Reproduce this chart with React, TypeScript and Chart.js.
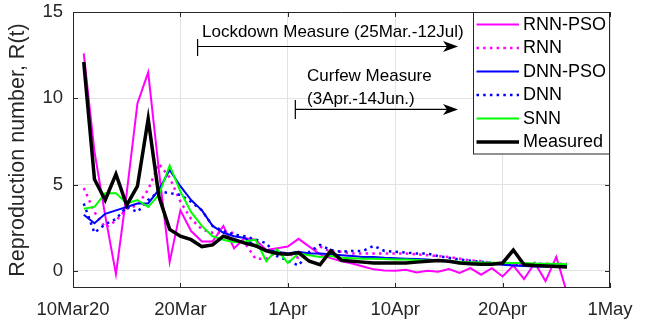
import React, { useEffect, useRef } from "react";
import { Chart, registerables } from "chart.js";

Chart.register(...registerables);

const days = [1,2,3,4,5,6,7,8,9,10,11,12,13,14,15,16,17,18,19,20,21,22,23,24,25,26,27,28,29,30,31,32,33,34,35,36,37,38,39,40,41,42,43,44,45,46];
const xTickValues = [0, 10, 20, 30, 40, 50];
const xTickLabels = ["10Mar20", "20Mar", "1Apr", "10Apr", "20Apr", "1May"];
const yTickValues = [0, 5, 10, 15];

const rnnPso = [12.6,6.9,3.2,-0.2,4.5,9.7,11.5,5.8,0.5,3.5, 2.3,1.7,1.7,2.6,1.3,1.9,1.8,1.2,1.3,1.4, 1.85,1.4,0.95,0.73,0.55,0.42,0.25,0.08,0.02,0.0, 0.06,-0.1,0.0,-0.06,0.1,-0.13,0.15,-0.23,0.15,-0.33, 0.3,-0.48,0.45,-0.6,0.8,-1.3];
const rnn = [4.8,3.4,2.5,2.9,3.6,3.8,4.7,6.2,5.4,4.0, 3.0,2.4,2.2,2.2,2.2,1.6,0.7,0.7,1.1,1.0, 0.75,1.0,1.4,1.1,1.1,1.0,1.0,1.0,1.0,1.0, 1.0,0.95,0.9,0.85,0.8,0.7,0.6,0.55,0.45,0.4, 0.4,0.4,0.4,0.4,0.4,0.4];
const dnnPso = [3.25,2.75,3.3,3.5,3.7,3.9,3.9,4.7,5.85,4.9, 4.1,3.5,2.6,2.2,2.0,1.9,1.4,1.2,1.1,1.0, 1.1,1.0,1.0,0.95,0.9,0.85,0.8,0.8,0.75,0.72, 0.7,0.68,0.65,0.6,0.55,0.5,0.48,0.45,0.4,0.35, 0.3,0.28,0.25,0.25,0.25,0.25];
const dnn = [3.9,2.2,2.7,3.0,3.7,3.4,4.1,4.6,4.5,4.4, 4.0,3.5,2.6,2.3,2.1,2.0,1.8,1.6,0.85,0.6, 0.3,1.1,1.5,1.2,1.1,1.15,1.15,1.45,1.15,1.1, 1.05,1.0,1.0,0.85,0.75,0.65,0.58,0.52,0.45,0.4, 0.35,0.32,0.3,0.3,0.28,0.28];
const snn = [3.6,3.7,4.5,4.5,3.9,4.1,3.7,4.4,6.1,4.6, 3.4,2.6,2.0,1.8,1.65,1.7,1.8,0.55,1.25,0.45, 1.0,0.9,0.8,0.85,0.75,0.72,0.7,0.7,0.68,0.65, 0.65,0.62,0.6,0.58,0.55,0.52,0.5,0.48,0.46,0.45, 0.45,0.45,0.42,0.4,0.4,0.38];
const measured = [12.1,5.3,4.1,5.6,3.8,4.9,8.8,4.3,2.4,2.0, 1.8,1.4,1.5,2.0,1.8,1.6,1.45,1.15,1.0,0.95, 1.05,0.55,0.35,1.15,0.6,0.55,0.5,0.45,0.45,0.45, 0.45,0.5,0.55,0.6,0.55,0.45,0.4,0.38,0.38,0.45, 1.2,0.35,0.3,0.28,0.25,0.22];

const seriesNames = ["RNN-PSO", "RNN", "DNN-PSO", "DNN", "SNN", "Measured"];
const yTitle = "Reproduction number, R(t)";
const lockdownText = "Lockdown Measure (25Mar.-12Jul)";
const curfewText1 = "Curfew Measure";
const curfewText2 = "(3Apr.-14Jun.)";
// annotation anchors in data units
const lockdownStartX = 11.6;
const curfewStartX = 20.7;
const arrowEndX = 35.85;
const lockdownArrowY = 13.0;
const curfewArrowY = 9.35;

const FONT = "'Liberation Sans', Arial, Helvetica, sans-serif";
const AXIS = "#262626";

const toPoints = (vals: number[]) => days.map((d, i) => ({ x: d, y: vals[i] }));

function drawArrow(ctx: CanvasRenderingContext2D, xs: number, xe: number, y: number, tUp: number, tDown: number) {
  ctx.save();
  ctx.strokeStyle = "#000";
  ctx.fillStyle = "#000";
  ctx.lineWidth = 1.2;
  ctx.beginPath();
  ctx.moveTo(xs, y);
  ctx.lineTo(xe - 10, y);
  ctx.moveTo(xs, y - tUp);
  ctx.lineTo(xs, y + tDown);
  ctx.stroke();
  ctx.beginPath();
  ctx.moveTo(xe, y);
  ctx.lineTo(xe - 15, y - 5.5);
  ctx.lineTo(xe - 11, y);
  ctx.lineTo(xe - 15, y + 5.5);
  ctx.closePath();
  ctx.fill();
  ctx.restore();
}

const framePlugin = {
  id: "frame",
  afterDatasetsDraw(chart: any) {
    const { ctx, chartArea: a, scales } = chart;
    ctx.save();
    ctx.strokeStyle = AXIS;
    ctx.lineWidth = 1;
    ctx.beginPath();
    ctx.moveTo(a.left, a.top + 0.5);
    ctx.lineTo(a.right, a.top + 0.5);
    ctx.moveTo(a.right - 0.5, a.top);
    ctx.lineTo(a.right - 0.5, a.bottom);
    ctx.moveTo(a.left + 0.5, a.top);
    ctx.lineTo(a.left + 0.5, a.bottom);
    ctx.moveTo(a.left, a.bottom - 0.5);
    ctx.lineTo(a.right, a.bottom - 0.5);
    const tl = 5;
    xTickValues.forEach((v) => {
      const px = Math.round(scales.x.getPixelForValue(v)) + 0.5;
      ctx.moveTo(px, a.bottom);
      ctx.lineTo(px, a.bottom - tl);
      ctx.moveTo(px, a.top);
      ctx.lineTo(px, a.top + tl);
    });
    yTickValues.forEach((v) => {
      const py = Math.round(scales.y.getPixelForValue(v)) + 0.5;
      ctx.moveTo(a.left, py);
      ctx.lineTo(a.left + tl, py);
      ctx.moveTo(a.right, py);
      ctx.lineTo(a.right - tl, py);
    });
    ctx.stroke();
    ctx.restore();

    // annotations
    const x = scales.x, y = scales.y;
    const xe = x.getPixelForValue(arrowEndX);
    const lx = x.getPixelForValue(lockdownStartX);
    const ly = y.getPixelForValue(lockdownArrowY);
    const cx = x.getPixelForValue(curfewStartX);
    const cy = y.getPixelForValue(curfewArrowY);
    drawArrow(ctx, lx, xe, ly, 7.5, 9.5);
    drawArrow(ctx, cx, xe, cy, 9.5, 9.5);
    ctx.save();
    ctx.fillStyle = "#000";
    ctx.font = `17px ${FONT}`;
    ctx.textAlign = "left";
    ctx.textBaseline = "alphabetic";
    ctx.fillText(lockdownText, lx + 4.4, ly - 9.7);
    ctx.fillText(curfewText1, cx + 11.7, cy - 28.3);
    ctx.fillText(curfewText2, cx + 11.7, cy - 5.5);
    ctx.restore();
  },
  afterDraw(chart: any) {
    const { ctx, chartArea: a } = chart;
    const w = 137;
    const h = 141.5;
    const left = a.right - w;
    const top = a.top;
    ctx.save();
    ctx.fillStyle = "#fff";
    ctx.fillRect(left, top, w, h);
    ctx.strokeStyle = AXIS;
    ctx.lineWidth = 1;
    ctx.strokeRect(Math.round(left) + 0.5, Math.round(top) + 0.5, w - 1, h);
    chart.data.datasets.forEach((ds: any, i: number) => {
      const yy = top + 12.5 + 23.5 * i;
      ctx.beginPath();
      ctx.strokeStyle = ds.borderColor;
      ctx.lineWidth = ds.borderWidth;
      ctx.setLineDash(ds.borderDash || []);
      ctx.lineCap = "butt";
      ctx.moveTo(left + 3.5, yy);
      ctx.lineTo(left + 46, yy);
      ctx.stroke();
      ctx.setLineDash([]);
      ctx.fillStyle = "#000";
      ctx.font = `18px ${FONT}`;
      ctx.textBaseline = "middle";
      ctx.textAlign = "left";
      ctx.fillText(ds.label, left + 50, yy + 0.5);
    });
    ctx.restore();
  },
};

export default function App() {
  const ref = useRef<HTMLCanvasElement>(null);
  useEffect(() => {
    const canvas = ref.current;
    if (!canvas) return;
    Chart.defaults.font.family = FONT;
    const dotted = [2.5, 4.2];
    const chart = new Chart(canvas, {
      type: "line",
      data: {
        datasets: [
          { label: seriesNames[0], data: toPoints(rnnPso), borderColor: "#ff00ff", borderWidth: 2, order: 5 },
          { label: seriesNames[1], data: toPoints(rnn), borderColor: "#ff00ff", borderWidth: 2.5, borderDash: dotted, order: 4 },
          { label: seriesNames[2], data: toPoints(dnnPso), borderColor: "#0000ff", borderWidth: 2, order: 3 },
          { label: seriesNames[3], data: toPoints(dnn), borderColor: "#0000ff", borderWidth: 2.5, borderDash: dotted, order: 2 },
          { label: seriesNames[4], data: toPoints(snn), borderColor: "#00ff00", borderWidth: 2, order: 1 },
          { label: seriesNames[5], data: toPoints(measured), borderColor: "#000000", borderWidth: 3.5, order: 0 },
        ] as any,
      },
      options: {
        animation: false,
        responsive: false,
        maintainAspectRatio: false,
        layout: { padding: { left: 0, top: 12, right: 38, bottom: 0 } },
        plugins: { legend: { display: false }, tooltip: { enabled: false } },
        elements: {
          point: { radius: 0 },
          line: { tension: 0, borderJoinStyle: "miter", borderCapStyle: "butt", fill: false },
        },
        scales: {
          x: {
            type: "linear",
            min: 0,
            max: 50,
            afterBuildTicks: (s: any) => {
              s.ticks = xTickValues.map((v) => ({ value: v }));
            },
            afterFit: (s: any) => {
              s.height = 36;
              s.paddingLeft = 0;
              s.paddingRight = 0;
            },
            ticks: {
              callback: (_v: any, i: number) => xTickLabels[i],
              padding: 11,
              color: AXIS,
              font: { size: 18.5 },
              maxRotation: 0,
              autoSkip: false,
            },
            grid: { color: "#e2e2e2", drawTicks: false },
            border: { display: false },
          },
          y: {
            type: "linear",
            min: -1,
            max: 15,
            afterBuildTicks: (s: any) => {
              s.ticks = yTickValues.map((v) => ({ value: v }));
            },
            afterFit: (s: any) => {
              s.width = 73;
              s.paddingTop = 0;
              s.paddingBottom = 0;
            },
            ticks: {
              callback: (v: any) => String(v),
              padding: 10,
              color: AXIS,
              font: { size: 18.5 },
              autoSkip: false,
            },
            grid: { color: "#e2e2e2", drawTicks: false },
            border: { display: false },
            title: {
              display: true,
              text: yTitle,
              color: AXIS,
              font: { size: 21.5 },
              padding: { top: 5, bottom: 0 },
            },
          },
        },
      } as any,
      plugins: [framePlugin],
    });
    return () => chart.destroy();
  }, []);
  return (
    <div style={{ position: "absolute", left: 0, top: 0, width: 648, height: 324, background: "#fff" }}>
      <canvas ref={ref} width={648} height={324} style={{ display: "block", width: 648, height: 324 }} />
    </div>
  );
}
